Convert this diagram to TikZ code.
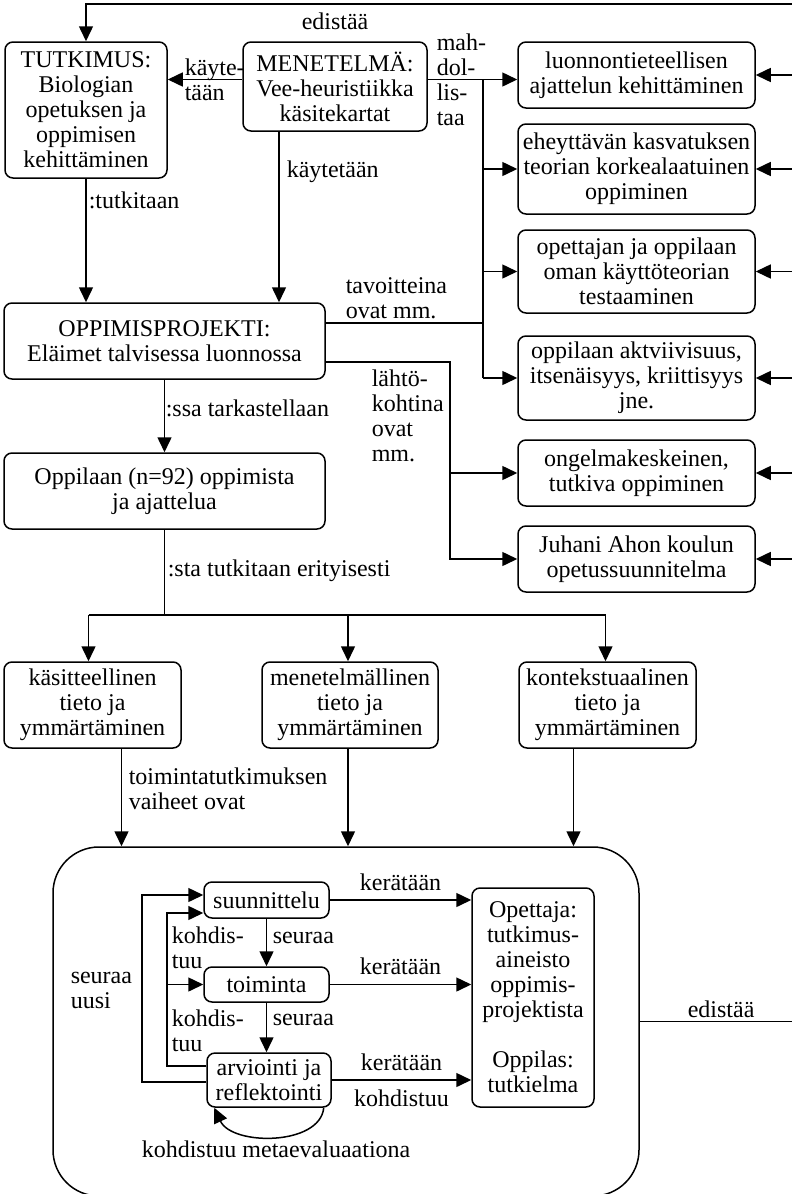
\documentclass[tikz,border=0pt]{standalone}
\usepackage{fontspec}
\setmainfont{Liberation Serif}
\usetikzlibrary{arrows.meta}

\begin{document}
\begin{tikzpicture}[x=0.5pt,y=-0.5pt,line width=0.75pt,
  every node/.style={font=\fontsize{12pt}{12.5pt}\selectfont},
  box/.style={draw,rounded corners=4pt,align=center,inner sep=0pt},
  lbl/.style={align=left,anchor=west,inner sep=0pt},
  arr/.style={-{Triangle[length=7.5pt,width=7pt]}}]
  \useasboundingbox (0,0) rectangle (792,1194);
  \node[box,minimum width=81pt,minimum height=68pt] (tutk) at (86,110) {TUTKIMUS:\\Biologian\\opetuksen ja\\oppimisen\\kehittäminen};
  \node[box,minimum width=92pt,minimum height=44.5pt] (menet) at (335,86.5) {MENETELMÄ:\\Vee-heuristiikka\\käsitekartat};
  \node[box,minimum width=118.5pt,minimum height=33pt] (r1) at (636.5,75) {luonnontieteellisen\\ajattelun kehittäminen};
  \node[box,minimum width=118.5pt,minimum height=45pt] (r2) at (636.5,169) {eheyttävän kasvatuksen\\teorian korkealaatuinen\\oppiminen};
  \node[box,minimum width=118.5pt,minimum height=41.5pt] (r3) at (636.5,271.5) {opettajan ja oppilaan\\oman käyttöteorian\\testaaminen};
  \node[box,minimum width=118.5pt,minimum height=42pt] (r4) at (636.5,378) {oppilaan aktviivisuus,\\itsenäisyys, kriittisyys\\jne.};
  \node[box,minimum width=118.5pt,minimum height=33pt] (r5) at (636.5,473) {ongelmakeskeinen,\\tutkiva oppiminen};
  \node[box,minimum width=118.5pt,minimum height=33pt] (r6) at (636.5,559) {Juhani Ahon koulun\\opetussuunnitelma};
  \node[box,minimum width=160.5pt,minimum height=38pt] (oppim) at (164.5,341) {OPPIMISPROJEKTI:\\Eläimet talvisessa luonnossa};
  \node[box,minimum width=160.5pt,minimum height=38pt] (oppil) at (164.5,491) {Oppilaan (n=92) oppimista\\ja ajattelua};
  \node[box,minimum width=88.5pt,minimum height=43pt] (kas) at (92.5,705) {käsitteellinen\\tieto ja\\ymmärtäminen};
  \node[box,minimum width=88pt,minimum height=43pt] (menl) at (350,705) {menetelmällinen\\tieto ja\\ymmärtäminen};
  \node[box,minimum width=88.5pt,minimum height=43pt] (kont) at (607.5,705) {kontekstuaalinen\\tieto ja\\ymmärtäminen};
  \node[draw,rounded corners=23pt,minimum width=293pt,minimum height=174.5pt,inner sep=0pt] (big) at (346,1021.5) {};
  \node[box,minimum width=62.5pt,minimum height=18pt] (suun) at (266.5,900) {suunnittelu};
  \node[box,minimum width=62.5pt,minimum height=17.5pt] (toim) at (266.5,984.5) {toiminta};
  \node[box,minimum width=62pt,minimum height=27pt] (arvi) at (269,1080) {arviointi ja\\reflektointi};
  \node[box,minimum width=61pt,minimum height=109.5pt] (opet) at (533,997.5) {Opettaja:\\tutkimus-\\aineisto\\oppimis-\\projektista\\[12.5pt]Oppilas:\\tutkielma};

  \coordinate (rtop) at (793,4);
  \coordinate (mj) at (483,79);
  \coordinate (lj) at (450,362);
  \coordinate (sj) at (163,615);
  \coordinate (kx) at (167,0);
  \coordinate (ux) at (142,0);
  \coordinate (aw1) at ([yshift=7pt]arvi.west);
  \coordinate (aw2) at ([yshift=-1pt]arvi.west);
  \coordinate (sw1) at ([yshift=2.5pt]suun.west);
  \coordinate (sw2) at ([yshift=-6.5pt]suun.west);

  \draw[arr] (big.east) -- (big.east -| rtop) -- (rtop) -| (tutk.north);
  \node[lbl] (ed1) at (301,21) {edistää};
  \node[lbl] (ed2) at (687,1009) {edistää};
  \foreach \b in {r1,r2,r3,r4,r5,r6}
    \draw[arr] (\b.east -| rtop) -- (\b.east);

  \draw[arr] ([yshift=3.5pt]menet.west) -- ([yshift=3.5pt]menet.west -| tutk.east);
  \node[lbl] (kay1) at (184,80) {käyte-\\tään};
  \draw[arr] ([yshift=3.5pt]menet.east) -- ([yshift=3.5pt]menet.east -| r1.west);
  \node[lbl] (mah) at (436,80) {mah-\\dol-\\lis-\\taa};
  \draw (mj) -- (mj |- r4.west);
  \foreach \b in {r2,r3,r4}
    \draw[arr] (mj |- \b.west) -- (\b.west);

  \draw ([yshift=9pt]oppim.east) -- ([yshift=9pt]oppim.east -| mj);
  \node[lbl] (tav) at (345,298) {tavoitteina\\ovat mm.};
  \draw[arr] ([yshift=-10.5pt]oppim.east) -| (lj |- r6.west) -- (r6.west);
  \draw[arr] (lj |- r5.west) -- (r5.west);
  \node[lbl] (lah) at (371,416) {lähtö-\\kohtina\\ovat\\mm.};

  \draw[arr] (tutk.south) -- (tutk.south |- oppim.north);
  \node[lbl] (tutki) at (88,200) {:tutkitaan};
  \draw[arr] ([xshift=-28pt]menet.south) -- ([xshift=-28pt]menet.south |- oppim.north);
  \node[lbl] (kay2) at (286,172) {käytetään};
  \draw[arr] (oppim.south) -- (oppil.north);
  \node[lbl] (tark) at (165,408) {:ssa tarkastellaan};

  \draw (oppil.south) -- (oppil.south |- sj);
  \draw ([xshift=-2pt]kas.north |- sj) -- ([xshift=-1pt]kont.north |- sj);
  \draw[arr] ([xshift=-2pt]kas.north |- sj) -- ([xshift=-2pt]kas.north);
  \draw[arr] ([xshift=-1pt]menl.north |- sj) -- ([xshift=-1pt]menl.north);
  \draw[arr] ([xshift=-1pt]kont.north |- sj) -- ([xshift=-1pt]kont.north);
  \node[lbl] (eri) at (167,571) {:sta tutkitaan erityisesti};

  \draw[arr] ([xshift=14.5pt]kas.south) -- ([xshift=14.5pt]kas.south |- big.north);
  \draw[arr] ([xshift=-1pt]menl.south) -- ([xshift=-1pt]menl.south |- big.north);
  \draw[arr] ([xshift=-17pt]kont.south) -- ([xshift=-17pt]kont.south |- big.north);
  \node[lbl] (vai) at (128,789) {toimintatutkimuksen\\vaiheet ovat};

  \draw[arr] (suun.south) -- (toim.north);
  \node[lbl] (seu1) at (272,938) {seuraa};
  \draw[arr] (toim.south) -- (toim.south |- arvi.north);
  \node[lbl] (seu2) at (272,1020) {seuraa};

  \draw[arr] (suun.east) -- (suun.east -| opet.west) node[midway,above=1pt] {kerätään};
  \draw[arr] (toim.east) -- (toim.east -| opet.west) node[midway,above=1pt] {kerätään};
  \draw[arr] (arvi.east) -- (arvi.east -| opet.west) node[midway,above=1pt] {kerätään} node[midway,below=1pt] {kohdistuu};

  \draw[arr] (aw1) -| (kx |- sw2) -- (sw2);
  \draw[arr] (kx |- toim.west) -- (toim.west);
  \node[lbl] (koh1) at (171,948) {kohdis-\\tuu};
  \node[lbl] (koh2) at (171,1031) {kohdis-\\tuu};
  \draw[arr] (aw2) -| (ux |- sw1) -- (sw1);
  \node[lbl] (uusi) at (70,990) {seuraa\\uusi};

  \draw[arr] ([xshift=-4pt]arvi.south east) .. controls (320,1146) and (232,1146) .. ([xshift=4pt]arvi.south west);
  \node[lbl] (meta) at (141,1149) {kohdistuu metaevaluaationa};
\end{tikzpicture}
\end{document}
